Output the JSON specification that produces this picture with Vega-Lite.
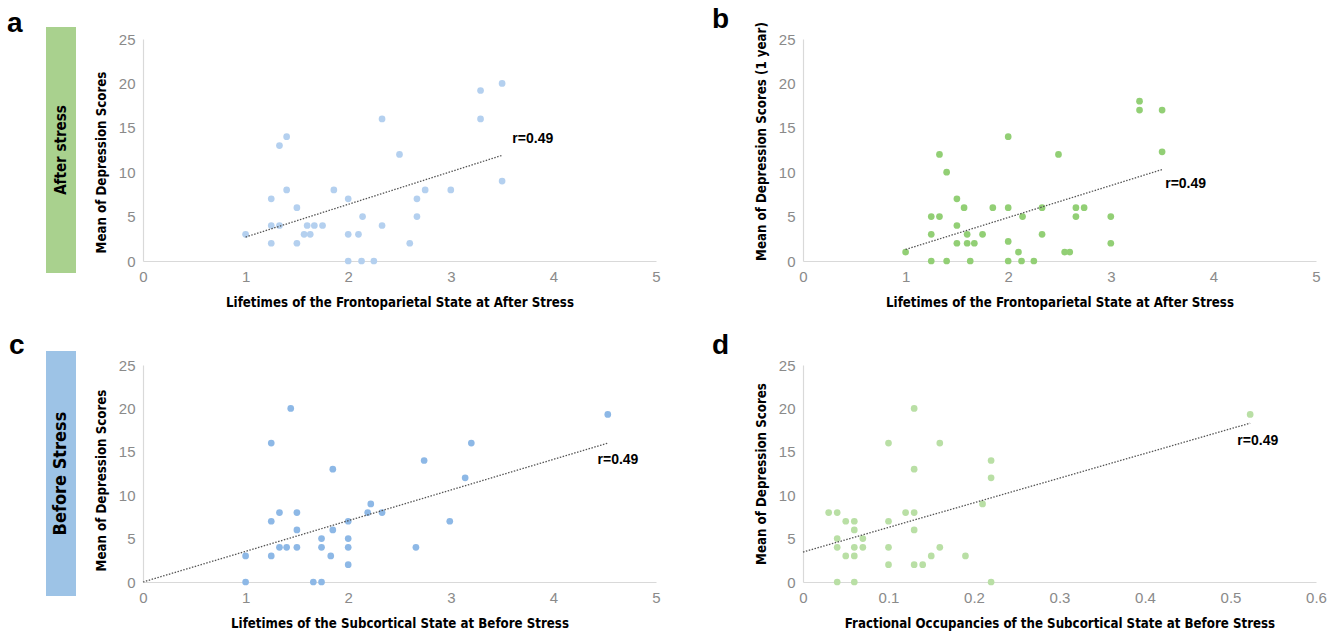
{
  "$schema": "https://vega.github.io/schema/vega-lite/v6.json",
  "background": "white",
  "padding": {"left": 7, "top": 5, "right": 5, "bottom": 5},
  "spacing": 23,
  "config": {
    "view": {"stroke": null},
    "axis": {
      "domainColor": "#d9d9d9", "domainWidth": 1.2, "ticks": false, "grid": false,
      "labelColor": "#8a8a8a", "labelFont": "Liberation Sans", "labelFontSize": 15, "labelFlush": false,
      "labelPadding": 8, "format": "~g",
      "titleFont": "DejaVu Sans Condensed, Liberation Sans, sans-serif", "titleFontWeight": "bold", "titleFontSize": 13.2, "titleColor": "#000000"
    },
    "axisX": {"titlePadding": 12},
    "axisY": {"titlePadding": 10},
    "title": {"font": "Liberation Sans", "fontSize": 28, "fontWeight": "bold", "anchor": "start", "frame": "group", "color": "#000000", "offset": 3, "dy": 5}
  },
  "datasets": {
    "ptsA": [
      {"x":1,"y":3},{"x":1.25,"y":7},{"x":1.25,"y":4},{"x":1.25,"y":2},{"x":1.33,"y":4},{"x":1.33,"y":13},
      {"x":1.4,"y":14},{"x":1.4,"y":8},{"x":1.5,"y":6},{"x":1.5,"y":2},{"x":1.57,"y":3},{"x":1.6,"y":4},
      {"x":1.63,"y":3},{"x":1.67,"y":4},{"x":1.75,"y":4},{"x":1.86,"y":8},{"x":2,"y":7},{"x":2,"y":3},
      {"x":2,"y":0},{"x":2.1,"y":3},{"x":2.13,"y":0},{"x":2.14,"y":5},{"x":2.25,"y":0},{"x":2.33,"y":16},
      {"x":2.33,"y":4},{"x":2.5,"y":12},{"x":2.6,"y":2},{"x":2.67,"y":7},{"x":2.67,"y":5},{"x":2.75,"y":8},
      {"x":3,"y":8},{"x":3.29,"y":19.2},{"x":3.29,"y":16},{"x":3.5,"y":20},{"x":3.5,"y":9}
    ],
    "ptsB": [
      {"x":1,"y":1},{"x":1.25,"y":5},{"x":1.25,"y":3},{"x":1.25,"y":0},{"x":1.33,"y":5},{"x":1.33,"y":12},
      {"x":1.4,"y":10},{"x":1.4,"y":0},{"x":1.5,"y":7},{"x":1.5,"y":4},{"x":1.5,"y":2},{"x":1.57,"y":6},
      {"x":1.6,"y":3},{"x":1.6,"y":2},{"x":1.63,"y":0},{"x":1.67,"y":2},{"x":1.75,"y":3},{"x":1.85,"y":6},
      {"x":2,"y":14},{"x":2,"y":6},{"x":2,"y":2.2},{"x":2,"y":0},{"x":2.1,"y":1},{"x":2.13,"y":0},
      {"x":2.14,"y":5},{"x":2.25,"y":0},{"x":2.33,"y":6},{"x":2.33,"y":3},{"x":2.49,"y":12},{"x":2.55,"y":1},
      {"x":2.6,"y":1},{"x":2.66,"y":5},{"x":2.66,"y":6},{"x":2.74,"y":6},{"x":3,"y":5},{"x":3,"y":2},
      {"x":3.28,"y":18},{"x":3.28,"y":17},{"x":3.5,"y":17},{"x":3.5,"y":12.3}
    ],
    "ptsC": [
      {"x":1,"y":3},{"x":1,"y":0},{"x":1.25,"y":7},{"x":1.25,"y":16},{"x":1.25,"y":3},{"x":1.33,"y":8},
      {"x":1.33,"y":4},{"x":1.4,"y":4},{"x":1.44,"y":20},{"x":1.5,"y":8},{"x":1.5,"y":6},{"x":1.5,"y":4},
      {"x":1.66,"y":0},{"x":1.74,"y":5},{"x":1.74,"y":4},{"x":1.74,"y":0},{"x":1.83,"y":3},{"x":1.85,"y":13},
      {"x":1.85,"y":6},{"x":2,"y":7},{"x":2,"y":5},{"x":2,"y":4},{"x":2,"y":2},{"x":2.19,"y":8},
      {"x":2.22,"y":9},{"x":2.33,"y":8},{"x":2.66,"y":4},{"x":2.74,"y":14},{"x":2.99,"y":7},{"x":3.14,"y":12},
      {"x":3.2,"y":16},{"x":4.53,"y":19.3}
    ],
    "ptsD": [
      {"x":0.03,"y":8},{"x":0.04,"y":8},{"x":0.04,"y":5},{"x":0.04,"y":4},{"x":0.04,"y":0},{"x":0.05,"y":7},
      {"x":0.05,"y":3},{"x":0.06,"y":7},{"x":0.06,"y":6},{"x":0.06,"y":4},{"x":0.06,"y":3},{"x":0.06,"y":0},
      {"x":0.07,"y":5},{"x":0.07,"y":4},{"x":0.1,"y":16},{"x":0.1,"y":7},{"x":0.1,"y":4},{"x":0.1,"y":2},
      {"x":0.12,"y":8},{"x":0.13,"y":20},{"x":0.13,"y":13},{"x":0.13,"y":8},{"x":0.13,"y":6},{"x":0.13,"y":2},
      {"x":0.14,"y":2},{"x":0.15,"y":3},{"x":0.16,"y":16},{"x":0.16,"y":4},{"x":0.19,"y":3},{"x":0.21,"y":9},
      {"x":0.22,"y":14},{"x":0.22,"y":12},{"x":0.22,"y":0},{"x":0.523,"y":19.3}
    ],
    "lineA": [{"x1":1,"y1":2.7,"x2":3.5,"y2":11.9}],
    "lineB": [{"x1":1,"y1":1.3,"x2":3.5,"y2":10.3}],
    "lineC": [{"x1":0,"y1":0,"x2":4.53,"y2":16.0}],
    "lineD": [{"x1":0,"y1":3.45,"x2":0.523,"y2":18.3}],
    "labA": [{"x":3.6,"y":13.7,"label":"r=0.49"}],
    "labB": [{"x":3.53,"y":8.7,"label":"r=0.49"}],
    "labC": [{"x":4.43,"y":14.0,"label":"r=0.49"}],
    "labD": [{"x":0.508,"y":16.3,"label":"r=0.49"}],
    "boxA": [{"label":"After stress"}],
    "boxC": [{"label":"Before Stress"}],
    "blank": [{"label":""}]
  },
  "vconcat": [
    {
      "bounds": "flush",
      "center": {"row": true, "column": false},
      "spacing": {"row": 20, "column": 67},
      "columns": 4,
      "concat": [
        {
          "width": 30, "height": 246,
          "data": {"name": "boxA"},
          "layer": [
            {"mark": {"type": "rect", "color": "#a9d18e"}, "encoding": {}},
            {"mark": {"type": "text", "angle": 270, "font": "DejaVu Sans Condensed, Liberation Sans, sans-serif", "fontWeight": "bold", "fontSize": 15, "color": "#000000"},
             "encoding": {"text": {"field": "label"}}}
          ]
        },
        {
          "width": 513, "height": 222,
          "title": {"text": "a", "dx": -136, "dy": 9},
          "layer": [
            {"data": {"name": "ptsA"}, "mark": {"type": "circle", "size": 45, "color": "#b4d0ef", "opacity": 1},
             "encoding": {
               "x": {"field": "x", "type": "quantitative", "scale": {"domain": [0, 5], "nice": false}, "axis": {"values": [0,1,2,3,4,5], "title": "Lifetimes of the Frontoparietal State at After Stress"}},
               "y": {"field": "y", "type": "quantitative", "scale": {"domain": [0, 25], "nice": false}, "axis": {"values": [0,5,10,15,20,25], "title": "Mean of Depression Scores", "titleY": 123}}
             }},
            {"data": {"name": "lineA"}, "mark": {"type": "rule", "strokeDash": [1.5, 1.5], "color": "#555555", "strokeWidth": 1.3},
             "encoding": {"x": {"field": "x1", "type": "quantitative"}, "y": {"field": "y1", "type": "quantitative"}, "x2": {"field": "x2"}, "y2": {"field": "y2"}}},
            {"data": {"name": "labA"}, "mark": {"type": "text", "align": "left", "baseline": "middle", "font": "Liberation Sans", "fontWeight": "bold", "fontSize": 14, "color": "#000000"},
             "encoding": {"x": {"field": "x", "type": "quantitative"}, "y": {"field": "y", "type": "quantitative"}, "text": {"field": "label"}}}
          ]
        },
        {
          "width": 13, "height": 10,
          "data": {"name": "blank"},
          "mark": {"type": "text"},
          "encoding": {"text": {"field": "label"}}
        },
        {
          "width": 513, "height": 222,
          "title": {"text": "b", "dx": -91, "dy": 15},
          "layer": [
            {"data": {"name": "ptsB"}, "mark": {"type": "circle", "size": 45, "color": "#92cf75", "opacity": 1},
             "encoding": {
               "x": {"field": "x", "type": "quantitative", "scale": {"domain": [0, 5], "nice": false}, "axis": {"values": [0,1,2,3,4,5], "title": "Lifetimes of the Frontoparietal State at After Stress"}},
               "y": {"field": "y", "type": "quantitative", "scale": {"domain": [0, 25], "nice": false}, "axis": {"values": [0,5,10,15,20,25], "title": "Mean of Depression Scores (1 year)", "titleY": 102}}
             }},
            {"data": {"name": "lineB"}, "mark": {"type": "rule", "strokeDash": [1.5, 1.5], "color": "#555555", "strokeWidth": 1.3},
             "encoding": {"x": {"field": "x1", "type": "quantitative"}, "y": {"field": "y1", "type": "quantitative"}, "x2": {"field": "x2"}, "y2": {"field": "y2"}}},
            {"data": {"name": "labB"}, "mark": {"type": "text", "align": "left", "baseline": "middle", "font": "Liberation Sans", "fontWeight": "bold", "fontSize": 14, "color": "#000000"},
             "encoding": {"x": {"field": "x", "type": "quantitative"}, "y": {"field": "y", "type": "quantitative"}, "text": {"field": "label"}}}
          ]
        }
      ]
    },
    {
      "bounds": "flush",
      "center": {"row": true, "column": false},
      "spacing": {"row": 20, "column": 67},
      "columns": 4,
      "concat": [
        {
          "width": 30, "height": 245,
          "data": {"name": "boxC"},
          "layer": [
            {"mark": {"type": "rect", "color": "#9dc3e6"}, "encoding": {}},
            {"mark": {"type": "text", "angle": 270, "font": "DejaVu Sans Condensed, Liberation Sans, sans-serif", "fontWeight": "bold", "fontSize": 18, "color": "#000000"},
             "encoding": {"text": {"field": "label"}}}
          ]
        },
        {
          "width": 513, "height": 217,
          "title": {"text": "c", "dx": -134},
          "layer": [
            {"data": {"name": "ptsC"}, "mark": {"type": "circle", "size": 45, "color": "#8db8e6", "opacity": 1},
             "encoding": {
               "x": {"field": "x", "type": "quantitative", "scale": {"domain": [0, 5], "nice": false}, "axis": {"values": [0,1,2,3,4,5], "title": "Lifetimes of the Subcortical State at Before Stress"}},
               "y": {"field": "y", "type": "quantitative", "scale": {"domain": [0, 25], "nice": false}, "axis": {"values": [0,5,10,15,20,25], "title": "Mean of Depression Scores", "titleY": 115}}
             }},
            {"data": {"name": "lineC"}, "mark": {"type": "rule", "strokeDash": [1.5, 1.5], "color": "#555555", "strokeWidth": 1.3},
             "encoding": {"x": {"field": "x1", "type": "quantitative"}, "y": {"field": "y1", "type": "quantitative"}, "x2": {"field": "x2"}, "y2": {"field": "y2"}}},
            {"data": {"name": "labC"}, "mark": {"type": "text", "align": "left", "baseline": "middle", "font": "Liberation Sans", "fontWeight": "bold", "fontSize": 14, "color": "#000000"},
             "encoding": {"x": {"field": "x", "type": "quantitative"}, "y": {"field": "y", "type": "quantitative"}, "text": {"field": "label"}}}
          ]
        },
        {
          "width": 13, "height": 10,
          "data": {"name": "blank"},
          "mark": {"type": "text"},
          "encoding": {"text": {"field": "label"}}
        },
        {
          "width": 513, "height": 217,
          "title": {"text": "d", "dx": -91},
          "layer": [
            {"data": {"name": "ptsD"}, "mark": {"type": "circle", "size": 45, "color": "#b9dfa5", "opacity": 1},
             "encoding": {
               "x": {"field": "x", "type": "quantitative", "scale": {"domain": [0, 0.6], "nice": false}, "axis": {"values": [0,0.1,0.2,0.3,0.4,0.5,0.6], "title": "Fractional Occupancies of the Subcortical State at Before Stress"}},
               "y": {"field": "y", "type": "quantitative", "scale": {"domain": [0, 25], "nice": false}, "axis": {"values": [0,5,10,15,20,25], "title": "Mean of Depression Scores"}}
             }},
            {"data": {"name": "lineD"}, "mark": {"type": "rule", "strokeDash": [1.5, 1.5], "color": "#555555", "strokeWidth": 1.3},
             "encoding": {"x": {"field": "x1", "type": "quantitative"}, "y": {"field": "y1", "type": "quantitative"}, "x2": {"field": "x2"}, "y2": {"field": "y2"}}},
            {"data": {"name": "labD"}, "mark": {"type": "text", "align": "left", "baseline": "middle", "font": "Liberation Sans", "fontWeight": "bold", "fontSize": 14, "color": "#000000"},
             "encoding": {"x": {"field": "x", "type": "quantitative"}, "y": {"field": "y", "type": "quantitative"}, "text": {"field": "label"}}}
          ]
        }
      ]
    }
  ]
}
